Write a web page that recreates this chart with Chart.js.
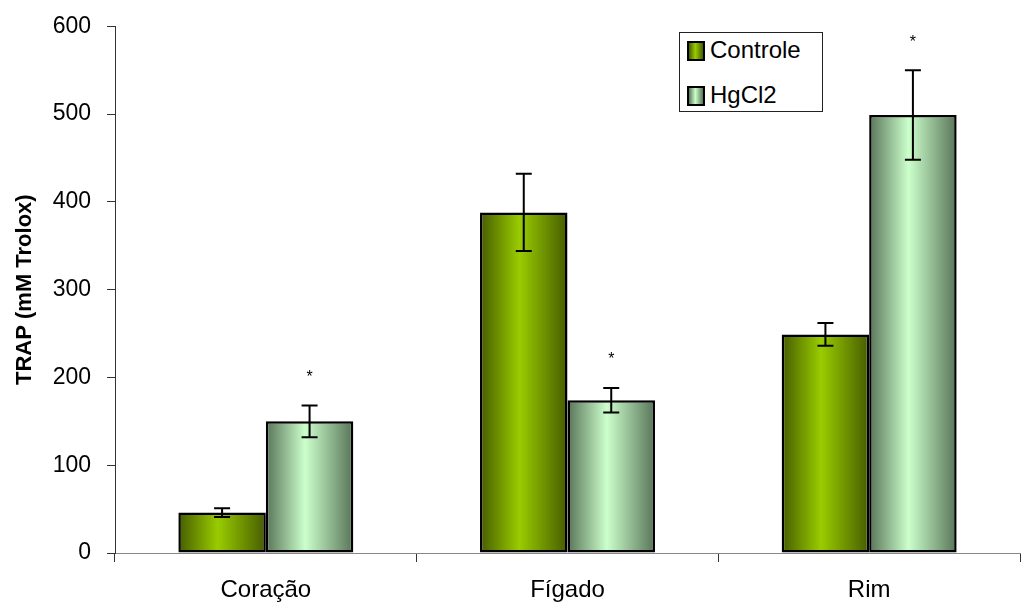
<!DOCTYPE html>
<html>
<head>
<meta charset="utf-8">
<script src="https://cdn.jsdelivr.net/npm/chart.js@4.4.1/dist/chart.umd.min.js"></script>
<style>
  html, body { margin: 0; padding: 0; background: #fff; }
  #wrap { position: relative; width: 1024px; height: 605px; }
  #legend {
    position: absolute; left: 679px; top: 32px; width: 142px; height: 78px;
    border: 1px solid #222; background: #fff;
    font-family: "Liberation Sans", Arial, sans-serif; font-size: 24px; color: #000;
  }
  .item { position: absolute; left: 7px; height: 26px; line-height: 26px; }
  .sw {
    display: inline-block; width: 14px; height: 16px; border: 2px solid #000;
    vertical-align: -3px; margin-right: 5px;
  }
</style>
</head>
<body>
<div id="wrap">
  <canvas id="chart" width="1024" height="605"></canvas>
  <div id="legend"></div>
</div>
<script>
const categories = ['Coração', 'Fígado', 'Rim'];
const controle = [46, 388, 249];
const controleErr = [5, 44, 13];
const hgcl2 = [150, 174, 499];
const hgcl2Err = [18, 14, 51];
const marked = [true, true, true]; // asterisks above HgCl2
const yMin = 0, yMax = 600, yStep = 100;

const CAT_PCT = 0.58;
const FONT = '"Liberation Sans", Arial, sans-serif';

const palettes = [
  { dark: '#465c00', light: '#99cc00' },
  { dark: '#587458', light: '#ccffcc' },
];

function barGradient(ctx) {
  const chart = ctx.chart;
  const pal = palettes[ctx.datasetIndex];
  const x = chart.scales.x;
  if (!chart.chartArea || !x) return pal.light;
  const n = chart.data.datasets.length;
  const barW = (x.width / categories.length) * CAT_PCT / n;
  const left = x.getPixelForValue(ctx.dataIndex) - barW * n / 2 + ctx.datasetIndex * barW;
  const g = chart.ctx.createLinearGradient(left, 0, left + barW, 0);
  g.addColorStop(0, pal.dark);
  g.addColorStop(0.45, pal.light);
  g.addColorStop(1, pal.dark);
  return g;
}

// error bars and significance marks, placed through the y scale
const errorBars = {
  id: 'errorBars',
  afterDatasetsDraw(chart) {
    const c = chart.ctx, y = chart.scales.y;
    const errs = [controleErr, hgcl2Err];
    c.save();
    c.strokeStyle = '#000';
    c.lineWidth = 2;
    chart.data.datasets.forEach((ds, di) => {
      chart.getDatasetMeta(di).data.forEach((bar, i) => {
        const v = ds.data[i], e = errs[di][i];
        const top = y.getPixelForValue(v + e), bot = y.getPixelForValue(v - e);
        c.beginPath();
        c.moveTo(bar.x, top); c.lineTo(bar.x, bot);
        c.moveTo(bar.x - 8, top); c.lineTo(bar.x + 8, top);
        c.moveTo(bar.x - 8, bot); c.lineTo(bar.x + 8, bot);
        c.stroke();
        if (di === 1 && marked[i]) {
          c.fillStyle = '#000';
          c.font = '16px ' + FONT;
          c.textAlign = 'center';
          c.textBaseline = 'middle';
          c.fillText('*', bar.x, top - 28);
        }
      });
    });
    c.restore();
  }
};

const barStyle = {
  backgroundColor: barGradient,
  borderColor: '#000',
  borderWidth: 2.5,
  borderSkipped: false,
};

new Chart(document.getElementById('chart'), {
  type: 'bar',
  data: {
    labels: categories,
    datasets: [
      { label: 'Controle', data: controle, ...barStyle },
      { label: 'HgCl2', data: hgcl2, ...barStyle },
    ],
  },
  options: {
    responsive: false,
    animation: false,
    categoryPercentage: CAT_PCT,
    barPercentage: 1,
    layout: { padding: { top: 6, right: 4, left: 0, bottom: 0 } },
    plugins: { legend: { display: false }, tooltip: { enabled: false }, colors: { enabled: false } },
    scales: {
      x: {
        offset: true,
        grid: { offset: true, drawOnChartArea: false, tickLength: 9, color: '#333' },
        border: { color: '#888', width: 1 },
        ticks: { color: '#000', font: { family: FONT, size: 24 }, padding: 14 },
        afterFit(s) { s.height = 52; },
      },
      y: {
        min: yMin, max: yMax,
        grid: { drawOnChartArea: false, tickLength: 8, color: '#333' },
        border: { color: '#333', width: 1 },
        ticks: { stepSize: yStep, color: '#000', font: { family: FONT, size: 23, lineHeight: 0.9 }, padding: 16 },
        title: {
          display: true, text: 'TRAP (mM Trolox)', color: '#000',
          font: { family: FONT, size: 22, weight: 'bold' }, padding: { top: 12, bottom: 0 },
        },
        afterFit(s) { s.width = 115; },
      },
    },
  },
  plugins: [errorBars],
});

// html legend
const legend = document.getElementById('legend');
['Controle', 'HgCl2'].forEach((name, i) => {
  const p = palettes[i];
  const item = document.createElement('div');
  item.className = 'item';
  item.style.top = (i === 0 ? 4 : 49) + 'px';
  item.innerHTML = '<span class="sw" style="background:linear-gradient(to right,' +
    p.dark + ',' + p.light + ' 45%,' + p.dark + ')"></span>' + name;
  legend.appendChild(item);
});
</script>
</body>
</html>
